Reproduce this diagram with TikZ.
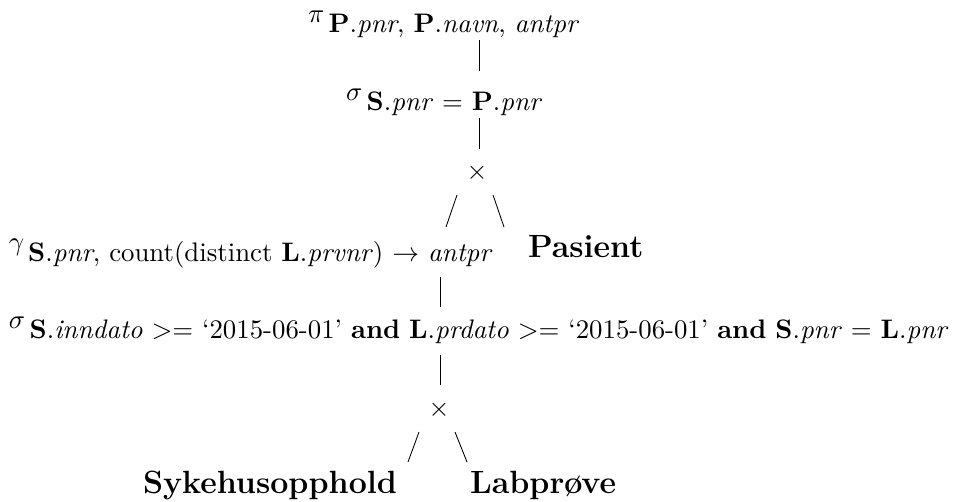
\documentclass[tikz,border=0pt]{standalone}
\usetikzlibrary{calc}
\tikzset{
  lbl/.style={inner sep=0pt, outer sep=0pt, anchor=base west},
  leaf/.style={lbl, font=\large\bfseries},
  prod/.style={inner sep=0pt, outer sep=0pt},
  conn/.style={line width=0.32pt},
}
\newcommand{\opsub}[2]{$#1_{\mbox{\hspace{2pt}#2}}$}
\begin{document}
\begin{tikzpicture}[x=0.3731pt,y=-0.3731pt]
\useasboundingbox (0,0) rectangle (956,502);
% nodes
\node[lbl] (pi) at (308,23) {\opsub{\pi}{\textbf{P}.\textit{pnr}, \textbf{P}.\textit{navn}, \textit{antpr}}};
\node[lbl] (sig1) at (346,101) {\opsub{\sigma}{\textbf{S}.\textit{pnr} $=$ \textbf{P}.\textit{pnr}}};
\node[prod] (t1) at (477,173) {$\times$};
\node[lbl] (gamma) at (9,251) {\opsub{\gamma}{\textbf{S}.\textit{pnr}, count(distinct \textbf{L}.\textit{prvnr}) $\rightarrow$ \textit{antpr}}};
\node[leaf] (pasient) at (528,258) {Pasient};
\node[lbl] (sig2) at (9,328.6) {\opsub{\sigma}{\textbf{S}.\textit{inndato} $>=$ ‘2015-06-01’ \textbf{and} \textbf{L}.\textit{prdato} $>=$ ‘2015-06-01’ \textbf{and} \textbf{S}.\textit{pnr} $=$ \textbf{L}.\textit{pnr}}};
\node[prod] (t2) at (439,410) {$\times$};
\node[leaf] (syk) at (143,493) {Sykehusopphold};
\node[leaf] (lab) at (470,493) {Labprøve};
% connectors
\draw[conn] ($(t1)+(2,-133)$) -- ($(t1)+(2,-102)$);   % pi -- sig1
\draw[conn] ($(t1)+(2,-55)$) -- ($(t1)+(2,-24)$);     % sig1 -- t1
\draw[conn] ($(t1)+(-20,22)$) -- ($(t1)+(-31,54)$);   % t1 -- gamma
\draw[conn] ($(t1)+(16,22)$) -- ($(t1)+(27,54)$);     % t1 -- pasient
\draw[conn] ($(t2)+(1,-133)$) -- ($(t2)+(1,-103)$);   % gamma -- sig2
\draw[conn] ($(t2)+(1,-55)$) -- ($(t2)+(1,-25)$);     % sig2 -- t2
\draw[conn] ($(t2)+(-20,22)$) -- ($(t2)+(-31,52)$);   % t2 -- syk
\draw[conn] ($(t2)+(16,22)$) -- ($(t2)+(28,52)$);     % t2 -- lab
\end{tikzpicture}
\end{document}
